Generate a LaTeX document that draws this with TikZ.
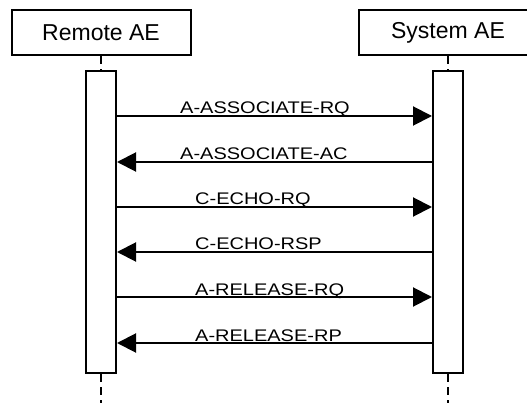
\documentclass[tikz,border=0pt]{standalone}
\usepackage{graphicx}
\usepackage{fontspec}
\setmainfont{Liberation Sans}
\usetikzlibrary{arrows.meta}
\usetikzlibrary{positioning}

\begin{document}
\begin{tikzpicture}[
    x=1pt, y=-1pt,
    actor/.style={
      draw, line width=2pt, inner sep=0pt,
      minimum width=179pt, minimum height=45pt,
      font=\fontsize{23}{23}\selectfont
    },
    activation/.style={
      draw, fill=white, line width=2pt, inner sep=0pt,
      minimum width=30pt, minimum height=302pt
    },
    lifeline/.style={
      line width=2pt, dash pattern=on 8pt off 5pt
    },
    arrowtip/.style={
      -{Triangle[length=19pt,width=19pt]}, line width=2pt
    },
    msg/.style={
      anchor=base west, inner sep=0pt,
      font=\fontsize{16.8}{17}\selectfont
    }
  ]
    \useasboundingbox (0,0) rectangle (527,403);
    \clip (0,0) rectangle (527,403);

    \node[actor] (RA) at (101,32.75) {Remote AE};
    \node[actor] (SA) at (448,32.75) {System AE};

    \node[activation] (RAB) at (101,222) {};
    \node[activation] (SAB) at (448,222) {};

    \coordinate (RAE) at (101,403);
    \coordinate (SAE) at (448,403);

    \draw[lifeline] (RA.south)  -- (RAB.north);
    \draw[lifeline] (RAB.south) -- (RAE);
    \draw[lifeline] (SA.south)  -- (SAB.north);
    \draw[lifeline] (SAB.south) -- (SAE);

    \coordinate (M1) at (0,116);
    \coordinate (M2) at (0,162);
    \coordinate (M3) at (0,207);
    \coordinate (M4) at (0,252);
    \coordinate (M5) at (0,297);
    \coordinate (M6) at (0,343);

    % association
    \draw[arrowtip] (RAB.east |- M1) -- (SAB.west |- M1);
    \node[msg] (M1L) at (180,114) {\scalebox{1.19}[1]{A-ASSOCIATE-RQ}};
    \draw[arrowtip] (SAB.west |- M2) -- (RAB.east |- M2);
    \node[msg] (M2L) at (180,160) {\scalebox{1.19}[1]{A-ASSOCIATE-AC}};

    % verification
    \draw[arrowtip] (RAB.east |- M3) -- (SAB.west |- M3);
    \node[msg] (M3L) at (195,205) {\scalebox{1.19}[1]{C-ECHO-RQ}};
    \draw[arrowtip] (SAB.west |- M4) -- (RAB.east |- M4);
    \node[msg] (M4L) at (195,250) {\scalebox{1.19}[1]{C-ECHO-RSP}};

    % release
    \draw[arrowtip] (RAB.east |- M5) -- (SAB.west |- M5);
    \node[msg] (M5L) at (195,295) {\scalebox{1.19}[1]{A-RELEASE-RQ}};
    \draw[arrowtip] (SAB.west |- M6) -- (RAB.east |- M6);
    \node[msg] (M6L) at (195,341) {\scalebox{1.19}[1]{A-RELEASE-RP}};
\end{tikzpicture}
\end{document}
